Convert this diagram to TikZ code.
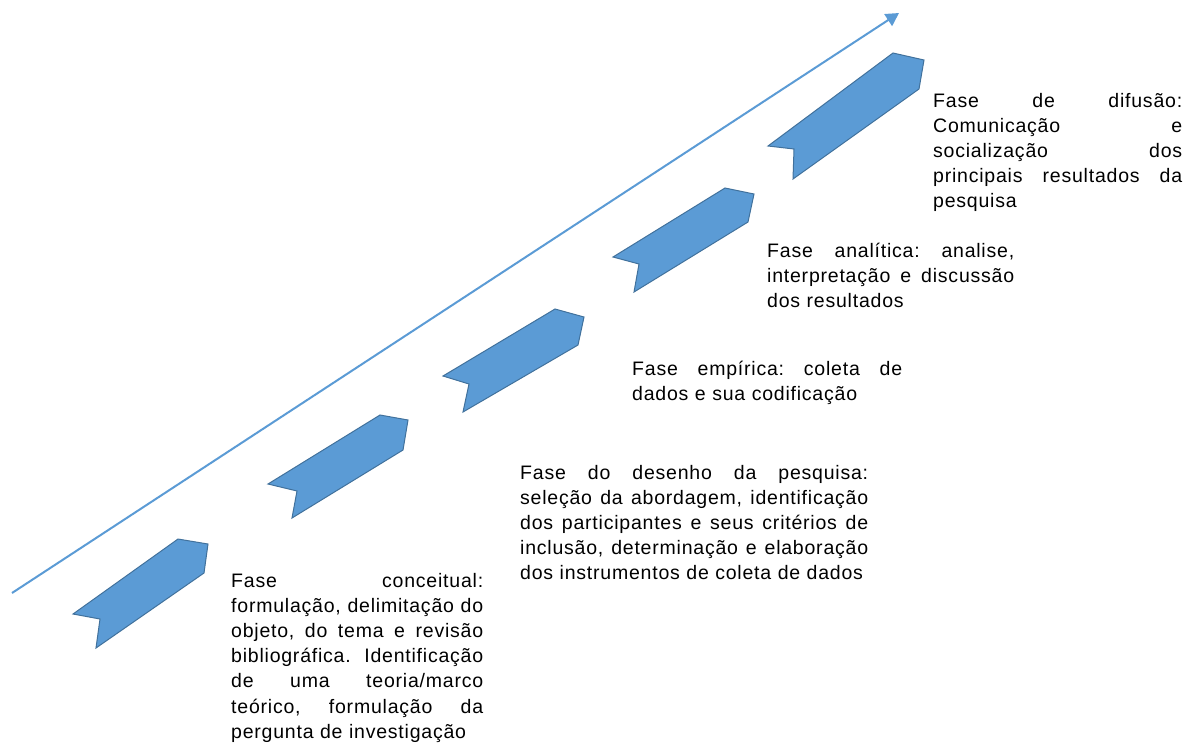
\documentclass[tikz,border=0pt]{standalone}
\usepackage{fontspec}
\setmainfont{Liberation Sans}[LetterSpace=4]
\usetikzlibrary{arrows.meta}
\definecolor{chevfill}{HTML}{5B9BD5}
\definecolor{chevedge}{HTML}{41719C}
\newcommand{\jline}[1]{\hbox to \hsize{\spaceskip=\fontdimen2\font plus 1fil\relax #1}}
\newcommand{\lline}[1]{\hbox{#1}}
\tikzset{
  chevron/.style={fill=chevfill, draw=chevedge, line width=1pt, line join=miter},
  phase/.style={anchor=base west, inner sep=0pt, font=\fontsize{19.5}{25.2}\selectfont\frenchspacing},
  timeline/.style={draw=chevfill, line width=2pt, -{Triangle[length=13pt,width=14pt]}}
}
\begin{document}
\begin{tikzpicture}[x=1pt,y=-1pt]
\useasboundingbox (0,0) rectangle (1193,742);
% timeline arrow
\coordinate (as) at (12,593);
\coordinate (ae) at (899,13);
\draw[timeline] (as) -- (ae);
% chevrons
\draw[chevron] (73,614) -- (178,539) -- (208,544) -- (204,573) -- (96,648) -- (100,619) -- cycle;
\draw[chevron] (268,484) -- (380,415) -- (408,420) -- (403,450) -- (292,518) -- (297,491) -- cycle;
\draw[chevron] (443,376) -- (555,309) -- (584,317) -- (578,345) -- (463,412) -- (469,384) -- cycle;
\draw[chevron] (613,257) -- (725,188) -- (754,194) -- (748,222) -- (634,292) -- (639,264) -- cycle;
\draw[chevron] (768,146) -- (893,53) -- (924,60) -- (919,89) -- (793,179) -- (794,149) -- cycle;
% texts
\node[phase, text width=252pt] (t1) at (231,587) {%
\jline{Fase conceitual:}
\jline{formulação, delimitação do}
\jline{objeto, do tema e revisão}
\jline{bibliográfica. Identificação}
\jline{de uma teoria/marco}
\jline{teórico, formulação da}
\lline{pergunta de investigação}};
\node[phase, text width=348pt] (t2) at (520,479) {%
\jline{Fase do desenho da pesquisa:}
\jline{seleção da abordagem, identificação}
\jline{dos participantes e seus critérios de}
\jline{inclusão, determinação e elaboração}
\lline{dos instrumentos de coleta de dados}};
\node[phase, text width=270pt] (t3) at (632,375) {%
\jline{Fase empírica: coleta de}
\lline{dados e sua codificação}};
\node[phase, text width=247pt] (t4) at (767,257) {%
\jline{Fase analítica: analise,}
\jline{interpretação e discussão}
\lline{dos resultados}};
\node[phase, text width=249pt] (t5) at (933,107) {%
\jline{Fase de difusão:}
\jline{Comunicação e}
\jline{socialização dos}
\jline{principais resultados da}
\lline{pesquisa}};
\end{tikzpicture}
\end{document}
